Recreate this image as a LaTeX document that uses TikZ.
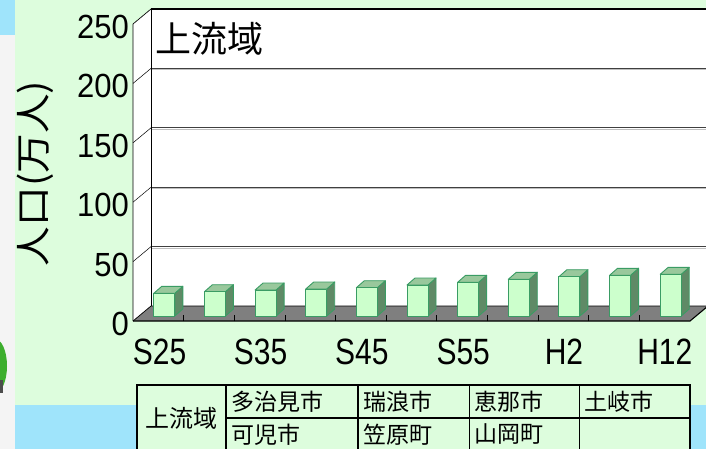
\documentclass[tikz,border=0pt]{standalone}
\usepackage{fontspec}
\setmainfont{Liberation Sans}
\newfontfamily\jpfont{Noto Sans CJK JP}
\definecolor{bggreen}{HTML}{DDFDDD}
\definecolor{skyblue}{HTML}{9FE4FB}
\definecolor{stripgray}{HTML}{F4F4F4}
\definecolor{barfront}{HTML}{CCFFCC}
\definecolor{barside}{HTML}{5F8A66}
\definecolor{bartop}{HTML}{99C89C}
\definecolor{baredge}{HTML}{3A9C64}
\definecolor{floorgray}{HTML}{7F7F7F}
\definecolor{blobgreen}{HTML}{3DAE2E}
\newcommand\ystretch[2]{\scalebox{1}[#1]{#2}}
\tikzset{
  ylab/.style={anchor=east, inner sep=0pt, font=\fontsize{31}{31}\selectfont},
  xlab/.style={anchor=center, inner sep=0pt, font=\fontsize{30}{30}\selectfont},
  cell/.style={anchor=west, inner sep=0pt, font=\jpfont\fontsize{23}{23}\selectfont},
  tabline/.style={draw=black, line width=1.1pt},
  barbox/.style={draw=baredge, line width=0.9pt, line join=round},
  grid/.style={draw=black!75, line width=1.1pt},
  gridshade/.style={draw=black!25, line width=1pt},
  wall/.style={draw=black, line width=0.7pt},
}
\begin{document}
\begin{tikzpicture}[x=1pt,y=-1pt]
\useasboundingbox (0,0) rectangle (706,449);
\begin{scope}
\clip (0,0) rectangle (706,449);
% background
\fill[bggreen] (0,0) rectangle (706,449);
\fill[stripgray] (0,0) rectangle (15,449);
\fill[skyblue] (0,0) rectangle (15,35);
\fill[skyblue] (15,405) rectangle (140,449);
\fill[skyblue] (688,405) rectangle (706,449);
\fill[blobgreen] (-5,366) ellipse [x radius=12, y radius=27];
\fill[black!70] (0,380) rectangle (3,393);
% walls
\fill[white] (151,9) rectangle (712,306);
\fill[white] (133,24) -- (151,9) -- (151,306) -- (133,321) -- cycle;
\foreach \k in {1,...,4}{
  \pgfmathsetmacro\yy{306-59.4*\k}
  \draw[gridshade] (151,\yy+1.6) -- (712,\yy+1.6);
  \draw[grid] (151,\yy) -- (712,\yy);
  \draw[wall, line width=0.5pt] (151,\yy) -- (133,\yy+15);
}
\draw[black, line width=1.6pt] (151,9) -- (712,9);
\draw[wall] (151,9) -- (133,24) -- (133,321);
\draw[wall] (151,9) -- (151,306);
% floor
\fill[floorgray] (133,321) -- (690,321) -- (708,306) -- (151,306) -- cycle;
\draw[wall] (133,321) -- (151,306) -- (712,306);
\draw[black, line width=1.1pt] (133,321) -- (690,321) -- (708,306);
\foreach \k in {1,...,10}{
  \draw[black, line width=0.8pt] (133+50.64*\k,321) -- (133+50.64*\k,315);
}
% bars
\foreach \i/\h in {0/22.7,1/24.3,2/26,3/27,4/28.3,5/31,6/33.7,7/36.7,8/39.3,9/40.7,10/41.7}{
  \pgfmathsetmacro\xl{153.8+50.64*\i}
  \pgfmathsetmacro\xr{\xl+21}
  \pgfmathsetmacro\yt{316-\h}
  \filldraw[barbox, fill=barside] (\xr,316) -- (\xr+8,309) -- (\xr+8,\yt-7) -- (\xr,\yt) -- cycle;
  \filldraw[barbox, fill=bartop] (\xl,\yt) -- (\xl+8,\yt-7) -- (\xr+8,\yt-7) -- (\xr,\yt) -- cycle;
  \filldraw[barbox, fill=barfront] (\xl,316) rectangle (\xr,\yt);
}
% y tick labels
\foreach \v/\k in {0/0,50/1,100/2,150/3,200/4,250/5}{
  \node[ylab] (ytick\v) at (129,{321-59.4*\k+3}) {\ystretch{1.08}{\v}};
}
% x labels
\node[xlab] (xS25) at (159.5,352) {\ystretch{1.22}{S25}};
\node[xlab] (xS35) at (260.6,352) {\ystretch{1.22}{S35}};
\node[xlab] (xS45) at (361.9,352) {\ystretch{1.22}{S45}};
\node[xlab] (xS55) at (463.2,352) {\ystretch{1.22}{S55}};
\node[xlab] (xH2) at (564.0,352) {\ystretch{1.22}{H2}};
\node[xlab] (xH12) at (664.8,352) {\ystretch{1.22}{H12}};
% titles
\node[anchor=west, inner sep=0pt, font=\jpfont\fontsize{36}{36}\selectfont] (title) at (155,39) {上流域};
\node[rotate=90, inner sep=0pt, font=\jpfont\fontsize{36}{36}\selectfont] (ytitle) at (35,173.5) {\scalebox{1.1}[1]{人口(万人)}};
% table
\fill[bggreen] (137,385) rectangle (690,455);
\draw[tabline] (137,455) -- (137,385) -- (690,385) -- (690,455);
\draw[tabline] (226,418) -- (690,418);
\foreach \xx in {226,358,469.5,579.5}{
  \draw[tabline] (\xx,385) -- (\xx,455);
}
\node[anchor=center, inner sep=0pt, font=\jpfont\fontsize{24}{24}\selectfont] (region) at (181.5,418) {上流域};
\node[cell] (c11) at (231,401.5) {多治見市};
\node[cell] (c12) at (363,401.5) {瑞浪市};
\node[cell] (c13) at (474.5,401.5) {恵那市};
\node[cell] (c14) at (584.5,401.5) {土岐市};
\node[cell] (c21) at (231,434.5) {可児市};
\node[cell] (c22) at (363,434.5) {笠原町};
\node[cell] (c23) at (474.5,434.5) {山岡町};
\end{scope}
\end{tikzpicture}
\end{document}
